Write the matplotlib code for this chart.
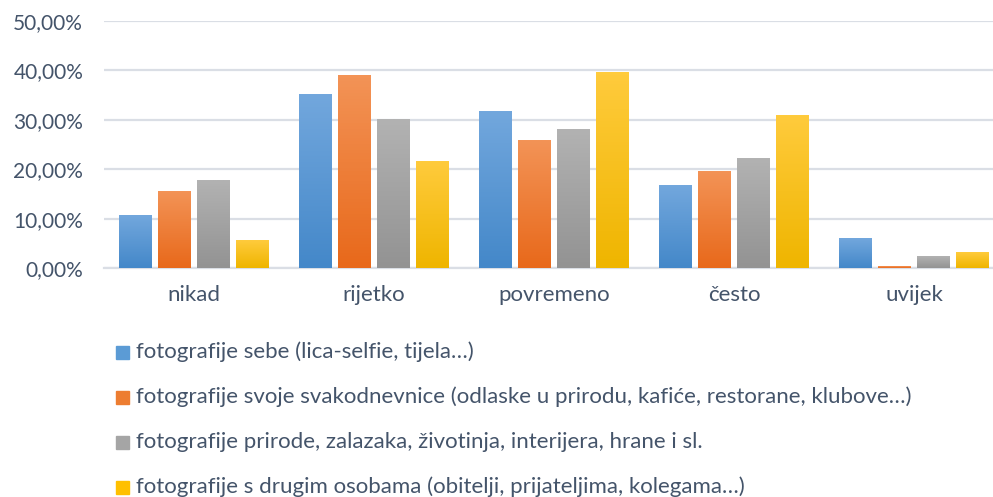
import numpy as np
import matplotlib.pyplot as plt
from matplotlib.colors import LinearSegmentedColormap
from matplotlib.patches import Rectangle
from matplotlib.ticker import FuncFormatter

plt.rcParams["font.family"] = ["Lato", "DejaVu Sans"]

# Categories on the x axis and answer shares per photo type (fractions)
categories = ["nikad", "rijetko", "povremeno", "često", "uvijek"]
series_labels = [
    "fotografije sebe (lica-selfie, tijela…)",
    "fotografije svoje svakodnevnice (odlaske u prirodu, kafiće, restorane, klubove…)",
    "fotografije prirode, zalazaka, životinja, interijera, hrane i sl.",
    "fotografije s drugim osobama (obitelji, prijateljima, kolegama…)",
]
selfie = [0.107, 0.352, 0.316, 0.168, 0.059]
daily = [0.154, 0.389, 0.259, 0.196, 0.004]
nature = [0.178, 0.300, 0.281, 0.221, 0.024]
people = [0.055, 0.215, 0.395, 0.308, 0.032]
series = [selfie, daily, nature, people]

# (top colour, bottom colour) of the vertical gradient on each bar
gradients = [
    ("#72a7dd", "#4488c9"),
    ("#f39356", "#e8691b"),
    ("#b2b2b2", "#939393"),
    ("#ffcb3c", "#efb500"),
]
legend_colours = ["#5b9bd5", "#ed7d31", "#a5a5a5", "#ffc000"]

TEXT = "#44546a"
GRID = "#dadee5"

fig = plt.figure(figsize=(9.93, 4.97), dpi=100)
ax = fig.add_axes([104 / 993, 1 - 268 / 497, 1 - 104 / 993, (268 - 21) / 497])

x = np.arange(len(categories))
bar_w = 0.183
step = 0.217
grad = np.linspace(1, 0, 64).reshape(-1, 1)

for i, (vals, (top, bottom)) in enumerate(zip(series, gradients)):
    offs = x + (i - 1.5) * step
    bars = ax.bar(offs, vals, width=bar_w, color=bottom, linewidth=0, zorder=2)
    cmap = LinearSegmentedColormap.from_list(f"g{i}", [bottom, top])
    for b in bars:
        x0, w, h = b.get_x(), b.get_width(), b.get_height()
        if h <= 0:
            continue
        ax.imshow(grad, extent=[x0, x0 + w, 0, h], aspect="auto", cmap=cmap,
                  vmin=0, vmax=1, zorder=3, origin="upper")

ax.set_xlim(-0.5, -0.5 + 889 / 180)
ax.set_ylim(0, 0.5)
ax.set_yticks(np.arange(0, 0.51, 0.1))
ax.yaxis.set_major_formatter(FuncFormatter(lambda v, _: f"{v * 100:.2f}%".replace(".", ",")))
ax.set_xticks(x)
ax.set_xticklabels(categories)
ax.tick_params(axis="both", length=0, colors=TEXT)
ax.tick_params(axis="x", pad=12, labelsize=16)
ax.tick_params(axis="y", pad=15, labelsize=15)
ax.grid(axis="y", color=GRID, linewidth=1.6, zorder=0)
ax.set_axisbelow(True)
for s in ["top", "right", "left"]:
    ax.spines[s].set_visible(False)
ax.spines["bottom"].set_color(GRID)
ax.spines["bottom"].set_linewidth(1.6)

# legend, one entry per line under the plot
for i, (lab, col) in enumerate(zip(series_labels, legend_colours)):
    yc = 352 + i * 45
    fig.patches.append(Rectangle((116 / 993, 1 - (yc + 6.5) / 497), 13 / 993, 13 / 497,
                                 transform=fig.transFigure, color=col, figure=fig))
    fig.text(136 / 993, 1 - yc / 497, lab, fontsize=16, color=TEXT, va="center")

fig.savefig("out.png", dpi=100)
